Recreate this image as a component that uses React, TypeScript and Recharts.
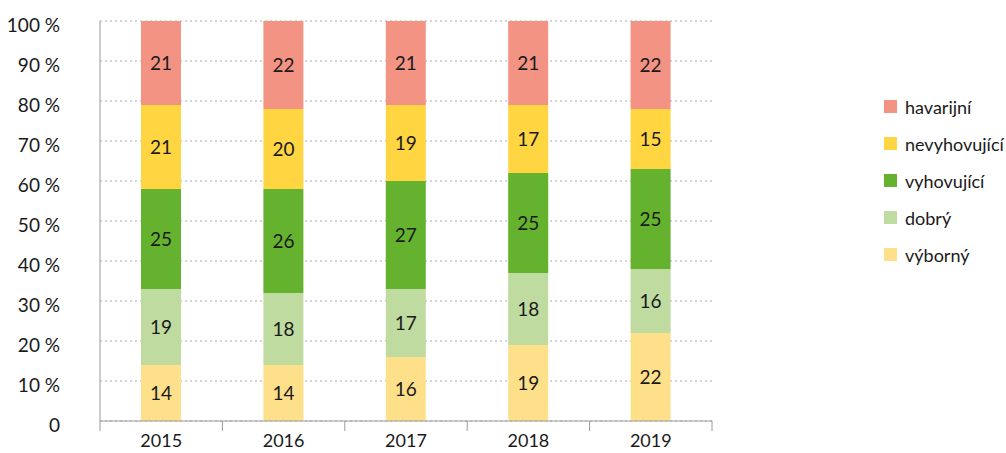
import React from "react";
import { BarChart, Bar, XAxis, YAxis, CartesianGrid, LabelList } from "recharts";

const years = ["2015", "2016", "2017", "2018", "2019"];
const vyborny = [14, 14, 16, 19, 22];
const dobry = [19, 18, 17, 18, 16];
const vyhovujici = [25, 26, 27, 25, 25];
const nevyhovujici = [21, 20, 19, 17, 15];
const havarijni = [21, 22, 21, 21, 22];
const yTicks = [0, 10, 20, 30, 40, 50, 60, 70, 80, 90, 100];

const series = [
  { key: "vyborny", name: "výborný", values: vyborny, color: "#FFE08A" },
  { key: "dobry", name: "dobrý", values: dobry, color: "#BFDBA0" },
  { key: "vyhovujici", name: "vyhovující", values: vyhovujici, color: "#65B22F" },
  { key: "nevyhovujici", name: "nevyhovující", values: nevyhovujici, color: "#FFD542" },
  { key: "havarijni", name: "havarijní", values: havarijni, color: "#F39383" },
];

const data = years.map((y, i) => {
  const row: any = { year: y };
  series.forEach((s) => (row[s.key] = s.values[i]));
  return row;
});

const FONT = "Lato, 'Noto Sans', sans-serif";
const AXIS = "#9a9a9a";
const TEXT = "#1a1a1a";

const XTick = (props: any) => {
  const { x, y, payload, width, visibleTicksCount, index } = props;
  const band = (width || 612) / (visibleTicksCount || years.length);
  const axisY = y - 13;
  const left = x - band / 2;
  const right = x + band / 2;
  return (
    <g>
      <line x1={left} x2={left} y1={axisY} y2={axisY + 10} stroke={AXIS} />
      {index === (visibleTicksCount || years.length) - 1 && (
        <line x1={right} x2={right} y1={axisY} y2={axisY + 10} stroke={AXIS} />
      )}
      <text x={x} y={y} dy="0.71em" textAnchor="middle" fill={TEXT} fontSize={18} fontFamily={FONT}>
        {payload.value}
      </text>
    </g>
  );
};

export default function App() {
  return (
    <div style={{ position: "absolute", left: 0, top: 0, width: 1006, height: 453, background: "#fff", fontFamily: FONT }}>
      <BarChart
        width={1006}
        height={453}
        data={data}
        margin={{ top: 21, right: 294, left: 0, bottom: 0 }}
        barSize={40}
      >
        <CartesianGrid vertical={false} stroke="#aaaaaa" strokeDasharray="2 3" />
        <XAxis
          dataKey="year"
          height={32}
          tickLine={false}
          tickSize={0}
          tickMargin={13}
          axisLine={{ stroke: AXIS }}
          tick={<XTick />}
        />
        <YAxis
          width={100}
          domain={[0, 100]}
          ticks={yTicks}
          interval={0}
          tickLine={false}
          tickSize={0}
          tickMargin={40}
          axisLine={{ stroke: AXIS }}
          tickFormatter={(v: number) => (v === 0 ? "0" : `${v} %`)}
          tick={{ fill: TEXT, fontSize: 19, fontFamily: FONT, dy: 4 }}
        />
        {series.map((s) => (
          <Bar key={s.key} dataKey={s.key} name={s.name} stackId="a" fill={s.color} isAnimationActive={false}>
            <LabelList dataKey={s.key} position="center" fill={TEXT} fontSize={19} fontFamily={FONT} />
          </Bar>
        ))}
      </BarChart>
      <div style={{ position: "absolute", left: 884, top: 88 }}>
        {series
          .slice()
          .reverse()
          .map((s) => (
            <div key={s.key} style={{ display: "flex", alignItems: "center", height: 37, fontSize: 18, color: TEXT }}>
              <span style={{ width: 13, height: 13, background: s.color, display: "inline-block", marginRight: 8 }} />
              <span>{s.name}</span>
            </div>
          ))}
      </div>
    </div>
  );
}
